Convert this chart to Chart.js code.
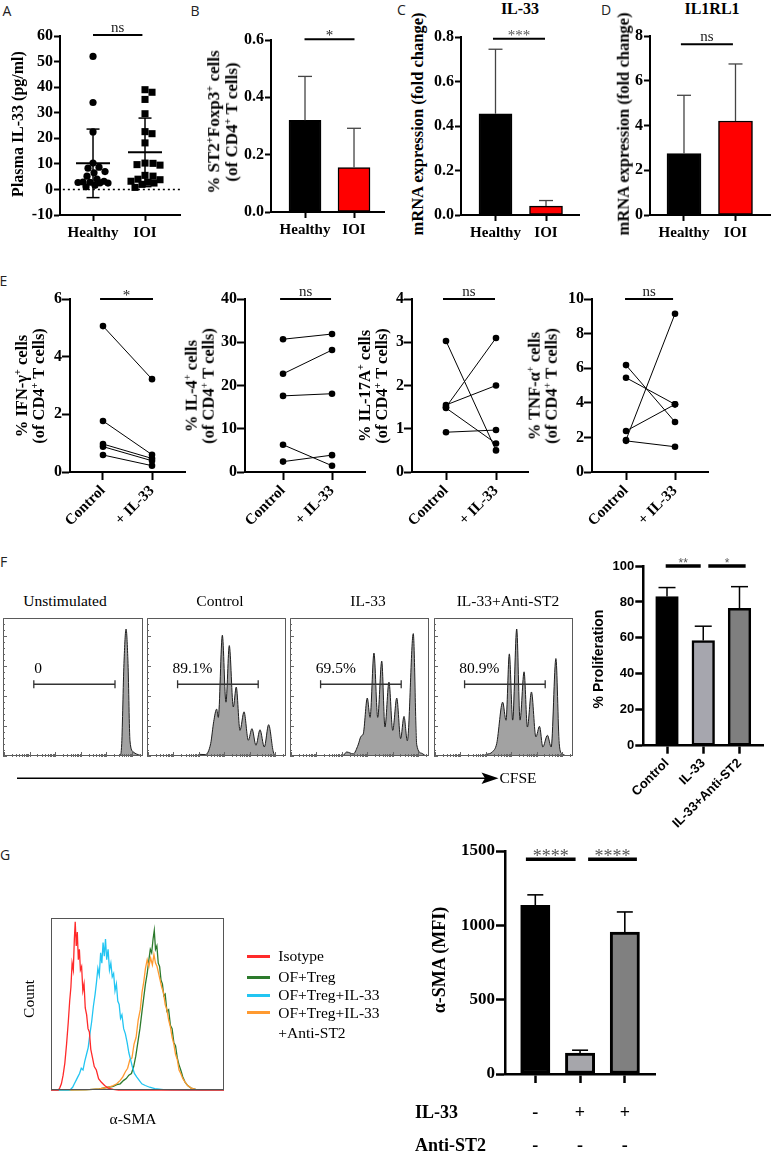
<!DOCTYPE html>
<html lang="en"><head><meta charset="utf-8"><title>IL-33 figure</title>
<script src="https://cdn.jsdelivr.net/npm/chart.js@4.4.1/dist/chart.umd.min.js"></script>
<style>
html,body{margin:0;padding:0;background:#fff;}
#fig{position:relative;width:771px;height:1151px;overflow:hidden;background:#fff;}
#fig canvas{position:absolute;}
.t{position:absolute;white-space:nowrap;line-height:1;text-align:center;color:#000;}
.t sup{font-size:0.62em;vertical-align:0.55em;line-height:0;}
</style></head><body><div id="fig"></div>
<script>
// ================= DATA =================
// Panel A – plasma IL-33 (pg/ml)
const groupsA = ['Healthy', 'IOI'];
const plasmaHealthy = [52, 34, 22.5, 10.3, 8.7, 8.3, 7, 6.5, 5.2, 4, 3.2, 2.9, 2.8, 2.7, 2.6, 2.5, 1.6, 1];
const plasmaIOI = [39, 38, 35.2, 29.6, 22.6, 21.8, 18.2, 10.3, 10.2, 9.7, 9.5, 5.5, 5.2, 4, 3.8, 3.2, 2.8, 2.5, 2, 0.8];
const plasmaMean = [10.2, 14.5];
const plasmaSD = [13.4, 13.4];
// Panels B–D
const groupsBD = ['Healthy', 'IOI'];
const st2Foxp3 = [0.32, 0.155];
const st2Foxp3Err = [0.153, 0.137];
const il33mRNA = [0.455, 0.04];
const il33mRNAErr = [0.29, 0.025];
const il1rl1mRNA = [2.75, 4.2];
const il1rl1mRNAErr = [2.6, 2.55];
// Panel E – paired donors
const condE = ['Control', '+ IL-33'];
const ifngCtrl = [5.06, 1.77, 0.97, 0.88, 0.59];
const ifngIL33 = [3.22, 0.6, 0.47, 0.39, 0.22];
const il4Ctrl = [30.7, 22.7, 17.6, 6.3, 2.4];
const il4IL33 = [31.9, 28.2, 18.1, 1.45, 3.9];
const il17Ctrl = [3.03, 1.5, 1.55, 1.48, 0.92];
const il17IL33 = [0.5, 3.1, 2.0, 0.66, 0.97];
const tnfCtrl = [6.18, 5.45, 2.37, 1.85, 1.8];
const tnfIL33 = [2.89, 3.91, 3.91, 9.15, 1.46];
// Panel F – CFSE histograms (channel 0-100, % of max count)
const titlesF = ['Unstimulated', 'Control', 'IL-33', 'IL-33+Anti-ST2'];
const gateF = ['0', '89.1%', '69.5%', '80.9%'];
const unstimX = [0, 80, 83.6, 84.8, 86.4, 87.9, 89.3, 90.7, 93, 97.9, 100];
const unstimY = [0, 0, 0.5, 9, 67, 92, 67, 11, 3, 0.5, 0];
const ctrlX = [0, 36, 38, 42, 45.8, 48, 50.1, 51.3, 54.2, 56.8, 59.2, 62.1, 64.2, 66.9, 69.8, 72.9, 75.5, 78.4, 81.3, 84.4, 87.5, 90.9, 93.3, 100];
const ctrlY = [0, 0.3, 1.2, 1, 9, 25, 34, 28, 87.5, 39, 80, 35.5, 50, 18.6, 32, 11.4, 19.8, 7.8, 19, 6.5, 22.7, 2.9, 0, 0];
const il33X = [0, 38, 40.8, 45.5, 49, 51.1, 52.7, 55.6, 57.6, 60.4, 63.1, 66, 68.3, 71.2, 73.9, 76.8, 79.6, 82, 84.4, 88.7, 91.2, 94.7, 98.3, 100];
const il33Y = [0, 0.3, 2.9, 1.5, 8, 14.3, 16, 42, 28, 74.6, 28, 68.8, 21, 53.6, 18.6, 42, 12.6, 28.7, 11, 88.7, 8, 2, 0, 0];
const antiX = [0, 35, 37.9, 42, 45.1, 49.4, 51.8, 54.2, 56.6, 59.5, 61.9, 64.8, 67.2, 70.1, 73.3, 75.9, 78.3, 81.6, 84.3, 87.7, 90.1, 92, 98, 100];
const antiY = [0, 0.3, 1.2, 3, 9, 39, 25.9, 74, 26, 92, 26, 61, 21, 46.4, 13.8, 21.5, 6.5, 15, 6.5, 70.6, 9, 1.7, 0, 0];
// Panel F – proliferation
const condF = ['Control', 'IL-33', 'IL-33+Anti-ST2'];
const prolif = [83, 58.5, 76.5];
const prolifErr = [5, 8, 12];
// Panel G – α-SMA histograms
const legendG = ['Isotype', 'OF+Treg', 'OF+Treg+IL-33', 'OF+Treg+IL-33<br>+Anti-ST2'];
const isoX = [0, 4, 5, 6, 7, 8, 9, 10, 10.8, 11.5, 12.2, 12.9, 13.5, 14, 14.6, 15.2, 15.8, 16.4, 17, 17.7, 18.4, 19.1, 19.8, 20.6, 21.4, 22.2, 23, 24, 25, 26.2, 27.5, 29, 31, 33, 36, 40, 100];
const isoY = [0, 0, 1.5, 4, 9, 16, 27, 40, 52, 60, 74, 70, 88, 98, 84, 92, 76, 82, 70, 72, 58, 62, 48, 44, 36, 34, 24, 19, 14, 12, 7, 5, 3, 1.5, 0.8, 0, 0];
const il33HX = [0, 9, 11, 12.5, 13.5, 14.5, 15.5, 16.5, 17.5, 18.5, 19.5, 20.5, 21.5, 22.5, 23.5, 24.5, 25.5, 26.3, 27.1, 27.9, 28.7, 29.4, 30.1, 30.8, 31.5, 32.2, 33, 33.8, 34.6, 35.4, 36.2, 37, 37.8, 38.6, 39.4, 40.2, 41, 42, 43, 44, 45, 46, 47, 48.2, 49.5, 51, 52.5, 54.5, 57, 60, 65, 70, 100];
const il33HY = [0, 0, 0.5, 2, 4, 6, 8, 10, 13, 12, 17, 21, 25, 33, 40, 49, 56, 63, 71, 67, 80, 74, 86, 78, 88, 76, 82, 70, 74, 66, 68, 58, 62, 52, 50, 42, 44, 36, 33, 28, 22, 18, 14, 10, 8, 6, 4, 3, 2, 1.2, 0.6, 0.3, 0];
const antiHX = [0, 10, 20, 28, 33, 36, 38, 40, 41.5, 43, 44.3, 45.6, 46.8, 48, 49.2, 50.4, 51.6, 52.6, 53.6, 54.6, 55.6, 56.6, 57.6, 58.6, 59.5, 60.4, 61.3, 62.2, 63.1, 64, 65, 66, 67, 68, 69, 70, 71, 72, 73, 74, 75, 76.2, 77.5, 79, 81, 84, 90, 100];
const antiHY = [0, 0.3, 0.5, 1, 2, 3, 4, 6, 8, 11, 13, 18, 19, 27, 31, 41, 47, 57, 63, 71, 76, 72, 77, 73, 79, 74, 72, 68, 64, 60, 57, 50, 47, 41, 37, 31, 27, 21, 18, 12, 10, 7, 5, 3, 1.5, 0.6, 0.2, 0];
const tregX = [0, 10, 20, 28, 33, 36, 38, 40, 42, 43.5, 45, 46.5, 47.8, 49, 50.2, 51.4, 52.6, 53.6, 54.6, 55.6, 56.6, 57.4, 58.2, 59, 59.7, 60.4, 61.2, 62, 62.8, 63.6, 64.4, 65.2, 66, 67, 68, 69, 70, 71, 72, 73, 74, 75, 76.2, 77.5, 79, 81, 84, 90, 100];
const tregY = [0, 0.3, 0.5, 1, 2, 2.5, 3.5, 4, 6, 7, 9, 10, 14, 20, 28, 36, 46, 54, 62, 68, 76, 82, 80, 88, 93, 82, 84, 74, 72, 64, 62, 55, 56, 46, 47, 38, 36, 28, 26, 19, 15, 12, 8, 5, 3, 1.5, 0.6, 0.2, 0];
// Panel G – α-SMA MFI
const smaMFI = [1135, 140, 955];
const smaErr = [70, 20, 135];
const rowIL33 = ['-', '+', '+'];
const rowAnti = ['-', '-', '-'];

// ================= HELPERS =================
const SERIF = "'Liberation Serif','Times New Roman',serif";
const SANS = "'Liberation Sans',Arial,sans-serif";
const LETTER = "'Open Sans','Noto Sans',sans-serif";
const fig = document.getElementById('fig');

function T(html, cx, cy, o = {}) {
  const d = document.createElement('div');
  d.className = 't';
  d.innerHTML = html;
  d.style.left = cx + 'px'; d.style.top = cy + 'px';
  d.style.fontFamily = o.f || SERIF;
  d.style.fontSize = (o.s || 15) + 'px';
  d.style.fontWeight = o.b ? 'bold' : 'normal';
  if (o.c) d.style.color = o.c;
  if (o.lh) d.style.lineHeight = o.lh;
  let tr = o.left ? 'translate(0,-50%)' : 'translate(-50%,-50%)';
  if (o.r) tr += ' rotate(' + o.r + 'deg)';
  d.style.transform = tr;
  if (o.left) d.style.textAlign = 'left';
  fig.appendChild(d);
  return d;
}
function seg(ctx, x1, y1, x2, y2) { ctx.beginPath(); ctx.moveTo(x1, y1); ctx.lineTo(x2, y2); ctx.stroke(); }

function mk(box, area, cfg, deco) {
  const cv = document.createElement('canvas');
  cv.width = box.w; cv.height = box.h;
  cv.style.left = box.x + 'px'; cv.style.top = box.y + 'px';
  cv.style.width = box.w + 'px'; cv.style.height = box.h + 'px';
  fig.appendChild(cv);
  const o = cfg.options;
  o.responsive = false; o.animation = false; o.events = []; o.devicePixelRatio = 1;
  o.layout = { padding: { left: 0, top: area.t - box.y, right: box.x + box.w - area.r, bottom: 0 } };
  o.plugins = Object.assign({ legend: { display: false }, tooltip: { enabled: false } }, o.plugins || {});
  const sx = o.scales.x, sy = o.scales.y;
  if (sy.display !== false) sy.afterFit = s => { s.width = area.l - box.x; };
  else o.layout.padding.left = area.l - box.x;
  if (sx.display !== false) sx.afterFit = s => { s.height = box.y + box.h - area.b; };
  else o.layout.padding.bottom = box.y + box.h - area.b;
  cfg.plugins = deco ? [{ id: 'deco', afterDatasetsDraw: c => { c.ctx.save(); deco(c, c.ctx, c.scales.x, c.scales.y, c.chartArea); c.ctx.restore(); } }] : [];
  return new Chart(cv, cfg);
}

function yAxis(min, max, step, o = {}) {
  return {
    type: 'linear', min, max, position: 'left',
    ticks: { stepSize: step, color: '#000', padding: o.pad ?? 1,
      font: { family: o.family || SERIF, weight: 'bold', size: o.size || 16 },
      callback: o.fmt || (v => String(Math.round(v))) },
    grid: { display: true, drawOnChartArea: false, drawTicks: true, tickLength: o.tl || 6, tickWidth: o.lw || 2, tickColor: '#000' },
    border: { display: true, color: '#000', width: o.lw || 2 }
  };
}
function xAxis(min, max, labels, o = {}) {
  return {
    type: 'linear', min, max, offset: false, position: 'bottom',
    afterBuildTicks: s => { s.ticks = labels.map((_, i) => ({ value: i })); },
    ticks: { autoSkip: false, color: '#000', padding: o.pad ?? 3, maxRotation: o.rot || 0, minRotation: o.rot || 0,
      font: { family: o.family || SERIF, weight: 'bold', size: o.size || 15 },
      callback: v => (o.hide ? '' : (labels[v] ?? '')) },
    grid: { display: true, offset: false, drawOnChartArea: false, drawTicks: true, tickLength: o.tl || 6, tickWidth: o.lw || 2, tickColor: '#000' },
    border: { display: true, color: '#000', width: o.lw || 2 }
  };
}
function errUp(ctx, xs, ys, vals, errs, o) {
  ctx.save(); ctx.strokeStyle = o.c || '#000'; ctx.lineWidth = o.lw || 1.5;
  vals.forEach((v, i) => {
    const px = xs.getPixelForValue(i), y0 = ys.getPixelForValue(v), y1 = ys.getPixelForValue(v + errs[i]);
    seg(ctx, px, y0, px, y1); seg(ctx, px - o.cap, y1, px + o.cap, y1);
  });
  ctx.restore();
}
function sig(ctx, xs, ys, x1, x2, y, label, o) {
  ctx.save(); ctx.strokeStyle = '#000'; ctx.lineWidth = o.lw || 2;
  const py = ys.getPixelForValue(y), p1 = xs.getPixelForValue(x1), p2 = xs.getPixelForValue(x2);
  seg(ctx, p1, py, p2, py);
  ctx.fillStyle = o.c || '#222'; ctx.font = o.font || ('15px ' + SERIF);
  ctx.textAlign = 'center'; ctx.textBaseline = 'alphabetic';
  ctx.fillText(label, (p1 + p2) / 2, py + (o.dy ?? -3));
  ctx.restore();
}
// compact beeswarm: horizontal offsets (px) limited to ±maxOff, overlap allowed when crowded
function swarm(vals, cx, kx, ky, d, maxOff) {
  const idx = vals.map((_, i) => i).sort((a, b) => vals[b] - vals[a]);
  const placed = [], out = new Array(vals.length);
  const cands = [0];
  for (let k = 1; k <= maxOff; k++) { cands.push(k, -k); }
  idx.forEach(i => {
    const py = vals[i] * ky;
    let best = 0, bestD = -1;
    for (const off of cands) {
      const md = placed.length ? Math.min(...placed.map(p => Math.hypot(p.x - off, p.y - py))) : 1e9;
      if (md >= d) { best = off; bestD = 1e9; break; }
      if (md > bestD) { bestD = md; best = off; }
    }
    placed.push({ x: best, y: py }); out[i] = cx + best / kx;
  });
  return out;
}

// ================= PANEL A =================
(function () {
  const box = { x: 20, y: 18, w: 170, h: 232 }, area = { l: 60, t: 36, r: 180, b: 215 };
  const xmin = -0.635, xmax = 1.673, ymin = -10, ymax = 60;
  const kx = (area.r - area.l) / (xmax - xmin), ky = (area.b - area.t) / (ymax - ymin);
  const hx = swarm(plasmaHealthy, 0, kx, ky, 7, 15);
  const ix = swarm(plasmaIOI, 1, kx, ky, 7.2, 16);
  mk(box, area, {
    type: 'scatter',
    data: { datasets: [
      { data: plasmaHealthy.map((v, i) => ({ x: hx[i], y: v })), pointStyle: 'circle', pointRadius: 3.6, backgroundColor: '#000', borderWidth: 0 },
      { data: plasmaIOI.map((v, i) => ({ x: ix[i], y: v })), pointStyle: 'rect', pointRadius: 5, backgroundColor: '#000', borderWidth: 0 }
    ] },
    options: { scales: { x: xAxis(xmin, xmax, groupsA), y: yAxis(ymin, ymax, 10) } }
  }, (c, ctx, xs, ys, a) => {
    ctx.setLineDash([2, 3]); ctx.lineWidth = 1.5; ctx.strokeStyle = '#000';
    const y0 = ys.getPixelForValue(0); seg(ctx, xs.getPixelForValue(-0.58), y0, a.right, y0);
    ctx.setLineDash([]);
    plasmaMean.forEach((m, i) => {
      const px = xs.getPixelForValue(i), pm = ys.getPixelForValue(m);
      const pt = ys.getPixelForValue(m + plasmaSD[i]), pb = ys.getPixelForValue(m - plasmaSD[i]);
      ctx.lineWidth = 2; seg(ctx, px - 17, pm, px + 17, pm);
      ctx.lineWidth = 1.5; seg(ctx, px, pt, px, pb);
      seg(ctx, px - 6.5, pt, px + 6.5, pt); seg(ctx, px - 6.5, pb, px + 6.5, pb);
    });
    sig(ctx, xs, ys, 0, 0.95, 60.4, 'ns', { dy: -3 });
  });
})();

// ================= PANELS B–D =================
function barPanel(box, area, xmin, xmax, ymax, step, fmt, vals, errs, sigSpec, barW) {
  mk(box, area, {
    type: 'bar',
    data: { datasets: [{ data: vals.map((v, i) => ({ x: i, y: v })), backgroundColor: ['#000', '#ff0000'],
      borderColor: '#000', borderWidth: 1.5, borderSkipped: false, barThickness: barW }] },
    options: { scales: { x: xAxis(xmin, xmax, groupsBD), y: yAxis(0, ymax, step, { fmt }) } }
  }, (c, ctx, xs, ys) => {
    errUp(ctx, xs, ys, vals, errs, { c: '#444', lw: 1.3, cap: 7 });
    sig(ctx, xs, ys, sigSpec[0], sigSpec[1], sigSpec[2], sigSpec[3], { dy: sigSpec[4], c: sigSpec[5] || '#222' });
  });
}
barPanel({ x: 240, y: 18, w: 150, h: 232 }, { l: 271, t: 40, r: 384, b: 212 }, -0.694, 1.612, 0.6, 0.2, v => v.toFixed(1),
  st2Foxp3, st2Foxp3Err, [-0.01, 1.01, 0.603, '*', 1], 32);
barPanel({ x: 430, y: 18, w: 150, h: 232 }, { l: 461, t: 37, r: 580, b: 215 }, -0.683, 1.673, 0.8, 0.2, v => v.toFixed(1),
  il33mRNA, il33mRNAErr, [-0.05, 0.98, 0.792, '***', 1, '#555'], 33);
barPanel({ x: 620, y: 18, w: 151, h: 232 }, { l: 650, t: 36, r: 770, b: 215 }, -0.66, 1.67, 8, 2, v => String(Math.round(v)),
  il1rl1mRNA, il1rl1mRNAErr, [-0.06, 0.95, 7.63, 'ns', -3], 34);

// ================= PANEL E =================
function pairPanel(box, area, xmin, xmax, ymax, step, ctrl, trt, sigSpec) {
  mk(box, area, {
    type: 'line',
    data: { datasets: ctrl.map((c, i) => ({ data: [{ x: 0, y: c }, { x: 1, y: trt[i] }], borderColor: '#000', borderWidth: 1,
      pointRadius: 3.3, pointBackgroundColor: '#000', pointBorderWidth: 0, tension: 0 })) },
    options: { scales: { x: xAxis(xmin, xmax, condE, { rot: 45, tl: 8, pad: 2 }), y: yAxis(0, ymax, step, { tl: 8, pad: 0 }) } }
  }, (c, ctx, xs, ys) => {
    sig(ctx, xs, ys, sigSpec[0], sigSpec[1], ymax, sigSpec[2], { dy: sigSpec[3] });
  });
}
pairPanel({ x: 40, y: 280, w: 150, h: 270 }, { l: 70, t: 299, r: 185, b: 472 }, -0.673, 1.673, 6, 2, ifngCtrl, ifngIL33, [-0.06, 1.02, '*', 1]);
pairPanel({ x: 212, y: 280, w: 160, h: 270 }, { l: 245, t: 299, r: 365, b: 472 }, -0.776, 1.673, 40, 10, il4Ctrl, il4IL33, [-0.06, 0.98, 'ns', -3]);
pairPanel({ x: 385, y: 280, w: 150, h: 270 }, { l: 412, t: 299, r: 528, b: 472 }, -0.68, 1.64, 4, 1, il17Ctrl, il17IL33, [-0.06, 0.98, 'ns', -3]);
pairPanel({ x: 555, y: 280, w: 160, h: 270 }, { l: 592, t: 299, r: 708, b: 472 }, -0.694, 1.673, 10, 2, tnfCtrl, tnfIL33, [-0.02, 0.96, 'ns', -3]);

// ================= PANEL F histograms =================
function histPanel(area, X, Y) {
  const box = { x: area.l - 4, y: area.t - 4, w: area.r - area.l + 8, h: area.b - area.t + 8 };
  mk(box, area, {
    type: 'line',
    data: { datasets: [{ data: X.map((x, i) => ({ x, y: Y[i] })), fill: 'origin', backgroundColor: '#a2a2a2',
      borderColor: '#1e1e1e', borderWidth: 1, pointRadius: 0, cubicInterpolationMode: 'monotone' }] },
    options: { scales: { x: { type: 'linear', min: 0, max: 100, display: false }, y: { type: 'linear', min: 0, max: 100, display: false } } }
  }, (c, ctx, xs, ys, a) => {
    ctx.strokeStyle = '#5a5a5a'; ctx.lineWidth = 1;
    ctx.strokeRect(Math.round(a.left) + 0.5, Math.round(a.top) + 0.5, Math.round(a.right - a.left) - 1, Math.round(a.bottom - a.top) - 1);
    ctx.strokeStyle = '#666';
    for (let k = 0; k <= 25; k++) {
      const v = k * 21.7 / 5; if (v > 100) break;
      const py = Math.round(ys.getPixelForValue(v)) + 0.5;
      seg(ctx, a.left, py, a.left + (k % 5 === 0 ? 4 : 2), py);
    }
    for (let d = 0; d < 6; d++) for (let m = 1; m <= 9; m++) {
      const v = 0.7 + 18.3 * (d + Math.log10(m)); if (v > 100) break;
      const px = Math.round(xs.getPixelForValue(v)) + 0.5;
      seg(ctx, px, a.bottom + 1, px, a.bottom - (m === 1 ? 4 : 2));
    }
    ctx.strokeStyle = '#333'; ctx.lineWidth = 1.3;
    const gy = ys.getPixelForValue(52), g1 = xs.getPixelForValue(22), g2 = xs.getPixelForValue(80);
    seg(ctx, g1, gy, g2, gy); seg(ctx, g1, gy - 4, g1, gy + 4); seg(ctx, g2, gy - 4, g2, gy + 4);
  });
}
histPanel({ l: 3, t: 618, r: 143, b: 756 }, unstimX, unstimY);
histPanel({ l: 147, t: 618, r: 286, b: 756 }, ctrlX, ctrlY);
histPanel({ l: 290, t: 618, r: 429, b: 756 }, il33X, il33Y);
histPanel({ l: 434, t: 618, r: 573, b: 756 }, antiX, antiY);

// ================= PANEL F bars =================
mk({ x: 605, y: 545, w: 166, h: 300 }, { l: 643.3, t: 566, r: 763.3, b: 745.7 }, {
  type: 'bar',
  data: { datasets: [{ data: prolif.map((v, i) => ({ x: i, y: v })), backgroundColor: ['#000', '#a6a6ae', '#7f7f7f'],
    borderColor: '#000', borderWidth: 2.5, borderSkipped: false, barThickness: 22.6 }] },
  options: { scales: {
    x: xAxis(-0.654, 2.657, condF, { rot: 45, tl: 8, lw: 2.5, family: SANS, size: 13, pad: 2 }),
    y: yAxis(0, 100, 20, { tl: 8, lw: 2.5, family: SANS, size: 13, pad: 1 }) } }
}, (c, ctx, xs, ys) => {
  errUp(ctx, xs, ys, prolif, prolifErr, { c: '#000', lw: 1.5, cap: 8.5 });
  sig(ctx, xs, ys, -0.036, 0.93, 100, '**', { lw: 3.3, font: '12px ' + SANS, c: '#555', dy: 1 });
  sig(ctx, xs, ys, 1.14, 2.17, 100, '*', { lw: 3.3, font: '12px ' + SANS, c: '#555', dy: 1 });
});

// ================= PANEL G histogram =================
(function () {
  const area = { l: 51, t: 918.3, r: 224, b: 1090.7 };
  const box = { x: 47, y: 914, w: 181, h: 181 };
  const mkDs = (X, Y, col) => ({ data: X.map((x, i) => ({ x, y: Y[i] })), borderColor: col, borderWidth: 1.3, pointRadius: 0, tension: 0, fill: false });
  mk(box, area, {
    type: 'line',
    data: { datasets: [mkDs(isoX, isoY, '#ff2a2a'), mkDs(il33HX, il33HY, '#22c5f2'), mkDs(antiHX, antiHY, '#ff9a30'), mkDs(tregX, tregY, '#2c7a2c')] },
    options: { scales: { x: { type: 'linear', min: 0, max: 100, display: false }, y: { type: 'linear', min: 0, max: 100, display: false } } }
  }, (c, ctx, xs, ys, a) => {
    ctx.strokeStyle = '#555'; ctx.lineWidth = 1;
    ctx.strokeRect(Math.round(a.left) + 0.5, Math.round(a.top) + 0.5, Math.round(a.right - a.left) - 1, Math.round(a.bottom - a.top) - 1);
  });
})();

// ================= PANEL G bars =================
mk({ x: 450, y: 830, w: 210, h: 321 }, { l: 505, t: 851, r: 655.7, b: 1074 }, {
  type: 'bar',
  data: { datasets: [{ data: smaMFI.map((v, i) => ({ x: i, y: v })), backgroundColor: ['#000', '#a6a6ab', '#808080'],
    borderColor: '#000', borderWidth: 3, borderSkipped: false, barThickness: 29.3 }] },
  options: { scales: {
    x: xAxis(-0.677, 2.69, rowIL33, { hide: true, tl: 9, lw: 2.5 }),
    y: yAxis(0, 1500, 500, { tl: 9, lw: 2.5, size: 17, pad: 1 }) } }
}, (c, ctx, xs, ys) => {
  errUp(ctx, xs, ys, smaMFI, smaErr, { c: '#000', lw: 1.6, cap: 8 });
  sig(ctx, xs, ys, -0.21, 0.9, 1445, '****', { lw: 3.5, font: '18px ' + SERIF, c: '#555', dy: 3 });
  sig(ctx, xs, ys, 1.18, 2.27, 1445, '****', { lw: 3.5, font: '18px ' + SERIF, c: '#555', dy: 3 });
});

// ================= TEXT =================
const L = { f: LETTER, s: 14, c: '#222' };
T('A', 7, 11, L); T('B', 195, 11, L); T('C', 401.5, 10, L); T('D', 606, 10, L);
T('E', 3.5, 280.5, L); T('F', 3.5, 562, L); T('G', 5, 855, L);

T('IL-33', 520, 9, { b: 1, s: 16 });
T('IL1RL1', 712, 9, { b: 1, s: 16 });

T('Plasma IL-33 (pg/ml)', 18, 124, { b: 1, s: 16, r: -90 });
T('% ST2<sup>+</sup>Foxp3<sup>+</sup> cells<br>(of CD4<sup>+</sup> T cells)', 223, 122, { b: 1, s: 17, r: -90, lh: 1.05 });
T('mRNA expression (fold change)', 418, 124, { b: 1, s: 16.5, r: -90 });
T('mRNA expression (fold change)', 624, 124, { b: 1, s: 16.5, r: -90 });

T('% IFN-γ<sup>+</sup> cells<br>(of CD4<sup>+</sup> T cells)', 30, 386, { b: 1, s: 16.5, r: -90, lh: 1.05 });
T('% IL-4<sup>+</sup> cells<br>(of CD4<sup>+</sup> T cells)', 200, 386, { b: 1, s: 16.5, r: -90, lh: 1.05 });
T('% IL-17A<sup>+</sup> cells<br>(of CD4<sup>+</sup> T cells)', 373, 386, { b: 1, s: 16.5, r: -90, lh: 1.05 });
T('% TNF-α<sup>+</sup> cells<br>(of CD4<sup>+</sup> T cells)', 543, 386, { b: 1, s: 16.5, r: -90, lh: 1.05 });

[65, 220, 368, 508].forEach((cx, i) => T(titlesF[i], cx, 601, { s: 15.5 }));
[38, 192.5, 335.8, 479.3].forEach((cx, i) => T(gateF[i], cx, 667.5, { s: 15.5 }));
T('CFSE', 518, 778, { s: 15.5 });
T('% Proliferation', 597.5, 658.5, { f: SANS, b: 1, s: 14, r: -90 });

// CFSE arrow
(function () {
  const svgNS = 'http://www.w3.org/2000/svg';
  const s = document.createElementNS(svgNS, 'svg');
  s.setAttribute('width', '771'); s.setAttribute('height', '1151');
  s.style.position = 'absolute'; s.style.left = '0'; s.style.top = '0';
  s.innerHTML = '<line x1="17" y1="778.3" x2="488" y2="778.3" stroke="#000" stroke-width="1.6"/>' +
    '<polygon points="481.5,772.5 498.5,778.3 481.5,784 485,778.3" fill="#000"/>';
  fig.appendChild(s);
})();

T('Count', 29, 999, { s: 15.5, r: -90 });
T('α-SMA', 133, 1119, { s: 15.5 });
const legCols = ['#ff2a2a', '#2c7a2c', '#22c5f2', '#ff9a30'];
const legY = [956, 977.3, 995, 1012.7];
legendG.forEach((lab, i) => {
  const d = document.createElement('div');
  d.style.cssText = 'position:absolute;left:246.7px;width:23.3px;height:3px;top:' + (legY[i] - 1.5) + 'px;background:' + legCols[i];
  fig.appendChild(d);
  T(lab, 278.3, i < 3 ? legY[i] : legY[i] + 10, { s: 15.5, left: true, lh: i < 3 ? 1 : 1.3 });
});

T('α-SMA (MFI)', 439, 960, { b: 1, s: 18, r: -90 });
T('IL-33', 415, 1112, { b: 1, s: 18, left: true });
T('Anti-ST2', 415, 1145, { b: 1, s: 18, left: true });
[535.3, 580, 624.8].forEach((cx, i) => { T(rowIL33[i], cx, 1112, { b: 1, s: 18 }); T(rowAnti[i], cx, 1145, { b: 1, s: 18 }); });
</script></body></html>
